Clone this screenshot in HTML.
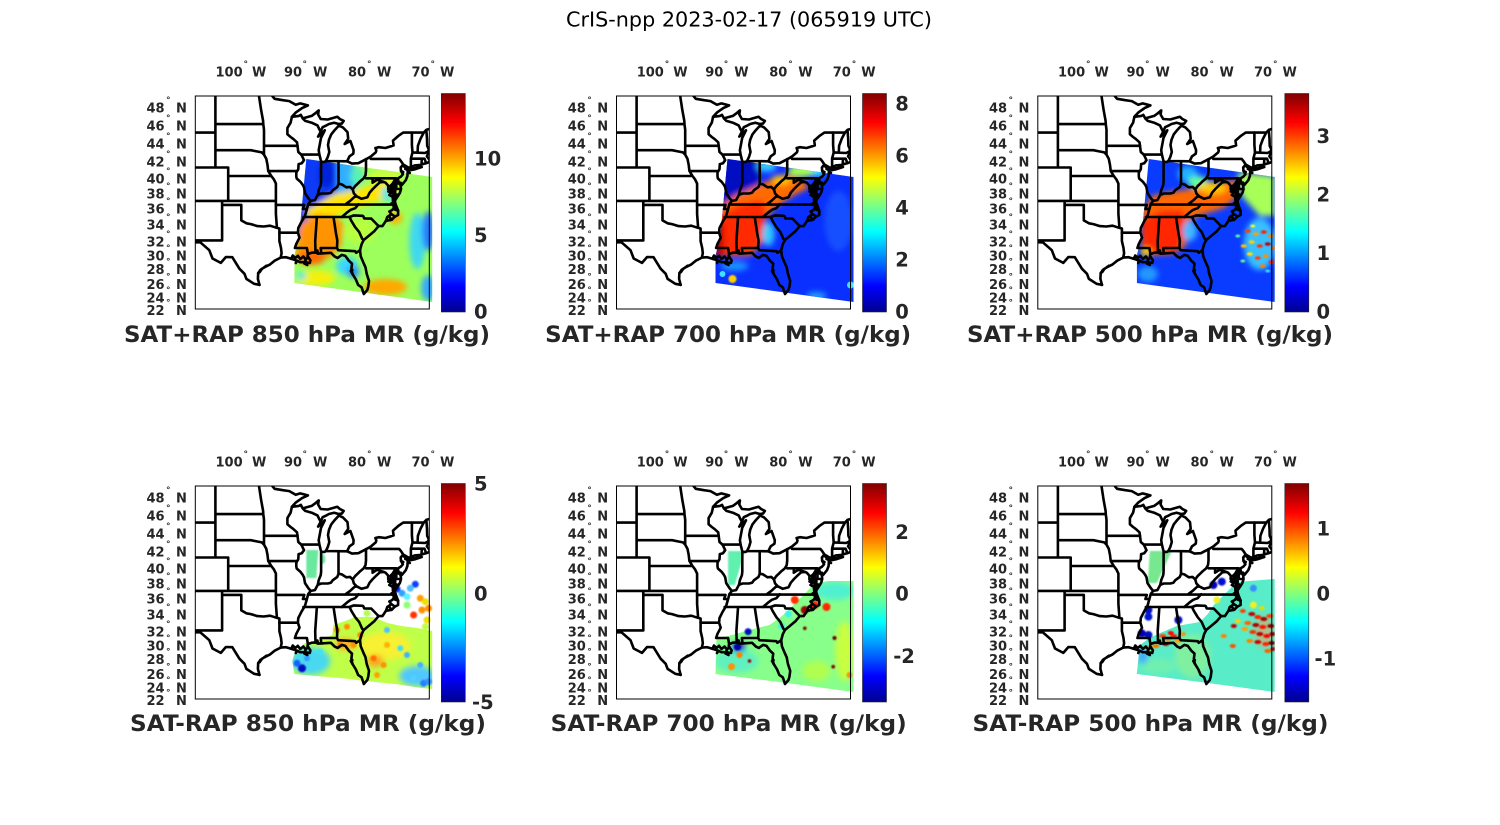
<!DOCTYPE html>
<html><head><meta charset="utf-8"><style>
html,body{margin:0;padding:0;background:#fff;}
svg{display:block;}
.t{font-family:"DejaVu Sans","Liberation Sans",sans-serif;fill:#262626;}
.l{font-size:13px;font-weight:bold;}
.d{font-size:9px;font-weight:bold;}
.c{font-size:19.5px;font-weight:bold;}
.h{font-size:22.5px;font-weight:bold;}
.m{font-size:20.5px;fill:#000;}
</style></head><body>
<svg width="1500" height="825" viewBox="0 0 1500 825" xmlns="http://www.w3.org/2000/svg">
<rect width="1500" height="825" fill="#fff"/>
<defs>
<linearGradient id="jet" x1="0" y1="1" x2="0" y2="0">
<stop offset="0" stop-color="#00008f"/><stop offset="0.117" stop-color="#0000ff"/><stop offset="0.367" stop-color="#00ffff"/><stop offset="0.617" stop-color="#ffff00"/><stop offset="0.867" stop-color="#ff0000"/><stop offset="1" stop-color="#800000"/>
</linearGradient>
<clipPath id="bx"><rect x="0" y="0" width="234" height="213"/></clipPath>
<clipPath id="sw"><polygon points="111,63 237,81 237,206 99,187 99,160 104,138"/></clipPath>
<clipPath id="c4"><polygon points="138,139 150,135 160,131 178,131 192,137 206,140 222,142 237,145 237,203 226,202 200,198 170,195 145,192 120,190 99,188 97,175 100,165 110,157 125,154 137,149"/></clipPath>
<clipPath id="c5"><polygon points="100,152 112,150 126,146 137,143 153,139 163,132 170,126 180,116 190,106 198,97 213,95 237,95 237,206 170,197 99,188"/></clipPath>
<clipPath id="c6"><polygon points="102,159 112,152 120,148 139,140 162,136 170,128 176,119 187,108 199,96 237,93 237,206 170,197 99,188"/></clipPath>
<filter id="b3" filterUnits="userSpaceOnUse" x="-30" y="-30" width="300" height="280"><feGaussianBlur stdDeviation="3"/></filter>
<filter id="b1" filterUnits="userSpaceOnUse" x="-30" y="-30" width="300" height="280"><feGaussianBlur stdDeviation="0.8"/></filter>
<g id="map" clip-path="url(#bx)" fill="none" stroke="#000" stroke-width="2.6" stroke-linejoin="round" stroke-linecap="round">
<path d="M20.1,0V71.5M0,36.6H20.1M0,71.5H32.9V104.9M32.9,80H76L78.6,83.4L80.6,87.6V117.8L81.6,131.7M20.1,28.1H68M20.1,54.2H55.6L62,55.5L66.5,56.4L68.7,58.6M63.7,0L65.8,13.9L67.8,24.9L68,28.1L68.7,33.9V58.6L71,62.9L72.2,68.9L72.9,74.9L76,80M68.7,49.8H102.2M73.1,75.1H100.9M0,104.9H80.6M26.8,104.9V144.4M26.8,108.9H46V124.4L51.1,127.3L55.6,128.1L62,130.1L68.4,130.5L74.8,129.7L81.3,131.8L84.1,132.5V145.1L85.7,152L86.3,157.3L85.4,161.4M0,144.4H26.8M0,146.3L5,146.3L14,154.2L17.2,162.5L25.5,166.9L30.6,161L37,161.2L44.1,172.7L49.2,177.8L51.1,182.9L58.8,187.8L64.2,188.9"/>
<path d="M64.2,188.9L62.6,182.9L62.9,177.1L65.2,173.8L69,171.3L74.8,168.4L79.3,164.7L85.4,161.6L90.8,161.2L95.9,162.8L101.7,164.7L104.9,166.2L108.7,166.2L114.5,166.9L115.1,164.3L112.2,160.2L112.6,158.1L116.4,156.7L120.2,156.5L122.8,157.6L126,157.4L135.6,156.8L139.4,160.6L142.3,161.9L146.5,158.9L150,159.9L153.5,164.7L156.7,167.6L156.1,172.7L157.1,177.8L160.6,183.5L162.8,188.9L166.3,191.3L168.5,198L172,194L173,190.3L173.7,184.9L171.4,177.8L170.2,171.3L168.2,166.9L165.4,160.2L164.7,154.2L166.3,148.2L168.4,144L174,139.4L179.1,135.1L183.3,130.1L187.1,130.1L190.6,124.9L196.4,123.8L199.6,120.6L202.8,119L202.8,114.6L200.4,108.5L199.6,105.7L197.7,104.9"/>
<path d="M84.1,136.7H102.6M96.6,20.8L95.3,26.7L92.1,32.1L92.1,38.3L95.3,41L97.8,42.8L101.7,46.3L102.2,49.8L103,56L106,58.6L108.7,64.2L106.5,67.2L103.3,68.1L103,73.2L101,76.6L101,80.4L101.4,82.5L105.2,85.9L107.4,88.8L108.7,91.3L109.7,97.1L113.2,102.4L115.4,104.9L112.9,108.1L111.6,113L109.7,119.8L106.2,125.7L103,132L102.6,136.7L104.2,141.7L101,147.8L99.6,152H111.6L112.6,158.1M80.6,108.9H109L107.6,113H111.6"/>
<path d="M77,0L79.3,2.8L87.6,4.2L94,5.1L100.4,8.8L104.9,7.4L112.6,9.4L106.8,12.1L100.4,16.6L96.6,20.8L103.6,19.9L105.5,18.9L107.4,22.4L110,24.9L116.4,26.7L122.2,29.4L124.1,33.4L125.4,35.7M125.4,35.7L127.3,31.2L131.1,29.4L133.7,28L138.8,26.7L143.3,28L146.5,27.6L148.4,24.9L144.6,23L142,20.8L132.4,23.5L125.4,23L122.8,18.5L123.4,14.4L119.6,17.6L116.4,19.9L107.4,22.4"/>
<path d="M125.4,35.7L122.8,40.6L126.6,37.4L129.5,34.3L125.7,41.9L124.7,47.2L123.4,54.2L124.1,58.6L125.4,63.8L126,65.9L129.2,65.9L130.5,65.1L132.4,61.2L134,56L132.7,49L133.7,43.7L136,38.3L138.8,34.8L143.6,29.5L147.8,31.6L152.2,36.1L152.9,42.8L149.4,48L155.1,45L158.3,54.2L158,57.7L154.2,60.3L151.9,65.1M106,58.6H124.1M130.4,65L151.9,65.3M125.8,65.5V85.9L125.4,89.2L123.4,94.2L122.5,98.8"/>
<path d="M115.4,104.9L119.6,104.1L122.5,98.8L126,97.5L132.4,97.5L135.6,96.7L137.5,94.2L142,90.9L143.3,87.6L146.5,88.4L151,91.3L154.8,90.9L157.4,93.4L159.9,90L162.5,87.6L165,85.1L168.2,82.5L170.2,79.2L170.7,74.6V63M143.2,87.6V65.3"/>
<path d="M151.9,65.3L156.7,67.6L163.1,67.2L170.8,63.2L175.5,60.5L180.4,56.4L181,54.6L180.1,52L183.6,51.2L190,52L195.8,50.3L198.3,49.4L197.7,44.6L202.8,40.1L207.9,36.6H228.4L231,33.9L234,33M231,33.9L231.7,42.8L231.9,49.8L233.5,53.3L232.9,55.4L232.6,58.1L231.6,60.3L233.5,62.9L234,64"/>
<path d="M170.7,82.3H201V93H205.7M175.5,62.9H203.8L205.4,64.7L207.9,68.5L213,71.5L212.4,74.1M207.9,68.5L205.4,71.5L205.7,74.9L207.6,78.3L205.4,80.8L203.1,82.1L202.5,83.4L203.4,85.9L205.4,89.6L205.7,93L204.7,96.7L202.2,100.8L199.9,104.1M212.4,74.1L212.4,75.8L212.1,80L210.5,84.2L206.6,88.9L205.4,86.7"/>
<path d="M199.4,84.2L197.1,88L196.8,93.4L198.7,96.7L197.4,100.8L197.7,104.9L199.6,105.7M199.6,85L198.3,90L199.9,95L199.6,100L199.9,104.1M177.3,82.3V86.7L181.7,83.8L188.3,85.9L190.3,86.7L192.9,89.6L192.9,93.4L198.7,96.7"/>
<path d="M150.5,108.1L154.8,104.9L159.3,100.8L161.5,100.4L158.6,97.5L157.4,93.4M161.5,100.4L166.3,102.8L172.1,101.2L174.3,96.7L177.5,93L181,89.6L184.6,86.3L188.3,85.9M113.2,108.6H200.4M108.1,121H154.2M120.2,156.5L119.9,145.1L121.5,121.8L121.8,121M138.2,121L140.7,137.5L142,144.4L141.7,152H125.4L126,157.4M141.7,152L142.9,154.2L159.9,155.2L160.9,156.8L164.7,154.2"/>
<path d="M146.5,121L151.6,116.6L155.4,113.8L159.9,112.2L163.3,108.2M154.2,121L158.6,119.4L167.3,119.8L168,120.2L168.9,122.4L176,122.6L183.3,130.1M154.2,121L156.1,124.9L159.9,131.2L163.8,135.9L166.9,142.8L168.4,144"/>
<path d="M216.6,36.6V49L217.2,56.4L215.6,62.5V70.7L214.2,71.7M228.4,36.6L225.2,42.8L222.6,49.8L222.3,56.6M217.2,56.4L229.7,57L232.9,55.4M215.6,62.7H229.2L230.6,66.4M226.5,62.7L226.2,68.7M214.2,71.7L219.4,69.4L225.2,68.9L229.1,67.6L231,67.2L234,66M213,74.6L220,73.2L226.5,71L220,72.2L213.5,73.2"/>
<path d="M199.6,120.6L196,118L194,115.5L197,114L199,111L197.5,109M190.6,124.9L192,121L195,119M95.9,162.8L97.5,159.5L100,162L102.5,159.8L105,163L108,160.5L110.5,163.5L113,161M197.4,100.8L194,99L196,97L193,95.5M198.7,96.7L195,94.5M212.4,74.1L210,73L212,71.5M62.9,177.1L64.5,176L66.5,173M69,171.3L71,169.8M122.8,157.6L122,154.5L121.5,157M157.1,177.8L155.5,175L157,174"/>
<path d="M197.1,88L195,90L196.5,91.5L194.5,93M199.6,100L201.5,98.5M202.5,83.4L201,86L203,87.5M205.7,74.9L208,76M212.4,75.8L214.5,77M196.4,123.8L194.5,121.5M199.6,105.7L196,107.5L199,110M202.8,114.6L199.5,113.5L201,111M214,73.2L216,72.4M208,70L210.5,71.8M110.5,163.5L109,167.5L112,169M101.7,164.7L100.5,167"/>
</g>
</defs>

<text class="t m" x="749" y="26.7" text-anchor="middle" textLength="366" lengthAdjust="spacingAndGlyphs">CrIS-npp 2023-02-17 (065919 UTC)</text>

<!-- PANEL 1 -->
<g transform="translate(195.3,96)">
<g clip-path="url(#sw)"><rect x="95" y="58" width="145" height="152" fill="#9cff5c"/>
<g filter="url(#b3)">
<polygon points="100,58 142,58 142,96 128,104 118,112 112,128 104,142 96,142" fill="#0c3af5"/>
<ellipse cx="131" cy="78" rx="8" ry="14" fill="#0020d8"/>
<polygon points="142,60 158,64 160,94 142,98" fill="#30b0ff"/>
<ellipse cx="162" cy="80" rx="7" ry="9" fill="#58f0b8"/>
<ellipse cx="190" cy="80" rx="18" ry="7" fill="#c8ff40"/>
<polygon points="110,114 140,98 160,94 180,88 200,84 204,96 180,106 160,112 140,120 116,130" fill="#ffe400"/>
<polygon points="104,128 120,118 140,120 148,128 146,150 135,162 110,166 100,160" fill="#ff9400"/>
<ellipse cx="116" cy="162" rx="14" ry="7" fill="#ff6a00"/>
<ellipse cx="165" cy="135" rx="16" ry="13" fill="#b8ff40"/>
<ellipse cx="152" cy="170" rx="11" ry="9" fill="#38d8ff"/>
<ellipse cx="158" cy="176" rx="6" ry="6" fill="#2a90ff"/>
<ellipse cx="120" cy="182" rx="20" ry="8" fill="#f4f010"/>
<ellipse cx="106" cy="180" rx="5" ry="4" fill="#48e8e0"/>
<ellipse cx="190" cy="191" rx="22" ry="8" fill="#ffa800"/>
<ellipse cx="200" cy="122" rx="7" ry="6" fill="#ffb000"/>
<ellipse cx="222" cy="145" rx="8" ry="28" fill="#40d8f0"/>
<ellipse cx="233" cy="135" rx="6" ry="20" fill="#2878ff"/>
<ellipse cx="233" cy="192" rx="7" ry="13" fill="#30a8ff"/>
<ellipse cx="192" cy="98" rx="6" ry="8" fill="#60e8e0"/>
</g></g>
<use href="#map"/>
<rect x="0" y="0" width="234" height="213" fill="none" stroke="#000" stroke-width="1"/>
</g>

<!-- PANEL 2 -->
<g transform="translate(616.5,96)">
<g clip-path="url(#sw)"><rect x="95" y="58" width="145" height="152" fill="#0a30ff"/>
<g filter="url(#b3)">
<polygon points="100,58 142,58 142,90 120,100 106,118 96,118" fill="#0008c0"/>
<ellipse cx="150" cy="70" rx="10" ry="6" fill="#30c8ff"/>
<ellipse cx="186" cy="75" rx="15" ry="6" fill="#a8ff50"/>
<ellipse cx="202" cy="76" rx="6" ry="5" fill="#30e0ff"/>
<polygon points="102,112 118,100 140,90 158,82 172,79 188,85 192,92 176,100 158,112 148,124 146,146 134,160 100,160" fill="#ff6a00"/>
<polygon points="102,120 124,108 146,104 150,118 142,150 130,158 102,160" fill="#ff2a00"/>
<rect x="99" y="128" width="8" height="32" fill="#c00000"/>
<ellipse cx="165" cy="84" rx="10" ry="5" fill="#ffc000"/>
<ellipse cx="152" cy="138" rx="6" ry="12" fill="#30c8ff"/>
<ellipse cx="118" cy="170" rx="14" ry="5" fill="#1c90ff"/>
<ellipse cx="222" cy="125" rx="14" ry="30" fill="#1450ff"/>
<ellipse cx="200" cy="200" rx="10" ry="4" fill="#20a0ff"/>
</g>
<circle cx="116" cy="183" r="4" fill="#ffd000" filter="url(#b1)"/>
<circle cx="106" cy="178" r="3" fill="#40e0ff"/>
<circle cx="234" cy="189" r="3.5" fill="#40e0ff"/>
</g>
<use href="#map"/>
<rect x="0" y="0" width="234" height="213" fill="none" stroke="#000" stroke-width="1"/>
</g>

<!-- PANEL 3 -->
<g transform="translate(1037.8,96)">
<g clip-path="url(#sw)"><rect x="95" y="58" width="145" height="152" fill="#0a3cff"/>
<g filter="url(#b3)">
<ellipse cx="150" cy="78" rx="10" ry="8" fill="#20b0ff"/>
<ellipse cx="160" cy="86" rx="10" ry="6" fill="#60ffa0"/>
<polygon points="104,116 114,100 132,96 160,92 185,86 200,84 200,100 186,112 160,120 150,125 148,150 135,158 104,160" fill="#ff6800"/>
<polygon points="104,124 125,114 146,114 147,140 138,156 106,158" fill="#ff2800"/>
<ellipse cx="175" cy="92" rx="14" ry="6" fill="#ffc800"/>
<ellipse cx="108" cy="156" rx="5" ry="4" fill="#ffe000"/>
<polygon points="200,76 237,80 237,120 222,120 204,100" fill="#a8ff58"/>
<ellipse cx="222" cy="148" rx="16" ry="26" fill="#38c0ff"/>
<ellipse cx="152" cy="135" rx="7" ry="10" fill="#40b8ff"/>
<ellipse cx="110" cy="178" rx="10" ry="8" fill="#2098ff"/>
</g>
<g filter="url(#b1)">
<ellipse cx="210" cy="135" rx="3" ry="1.8" fill="#ff4000"/><ellipse cx="218" cy="138" rx="3" ry="1.8" fill="#ffa000"/><ellipse cx="226" cy="136" rx="3" ry="1.8" fill="#ff2000"/><ellipse cx="233" cy="140" rx="3" ry="1.8" fill="#ff8000"/><ellipse cx="214" cy="146" rx="3" ry="1.8" fill="#ffd000"/><ellipse cx="222" cy="150" rx="3" ry="1.8" fill="#ff3000"/><ellipse cx="230" cy="148" rx="3" ry="1.8" fill="#c00000"/><ellipse cx="236" cy="152" rx="3" ry="1.8" fill="#ff6000"/><ellipse cx="212" cy="158" rx="3" ry="1.8" fill="#ffe000"/><ellipse cx="220" cy="162" rx="3" ry="1.8" fill="#ff4000"/><ellipse cx="228" cy="160" rx="3" ry="1.8" fill="#ff9000"/><ellipse cx="234" cy="166" rx="3" ry="1.8" fill="#ff2000"/><ellipse cx="206" cy="150" rx="3" ry="1.8" fill="#ffc000"/><ellipse cx="225" cy="170" rx="3" ry="1.8" fill="#ff8000"/><ellipse cx="200" cy="140" rx="2.5" ry="1.5" fill="#60ffa0"/><ellipse cx="215" cy="130" rx="2.5" ry="1.5" fill="#f0ff20"/><ellipse cx="230" cy="175" rx="2.5" ry="1.5" fill="#40e0ff"/><ellipse cx="205" cy="165" rx="2.5" ry="1.5" fill="#60ffa0"/>
</g></g>
<use href="#map"/>
<rect x="0" y="0" width="234" height="213" fill="none" stroke="#000" stroke-width="1"/>
</g>

<!-- PANEL 4 -->
<g transform="translate(195.3,486)">
<g filter="url(#b1)"><polygon points="111,64 123,64 121,92 111,92" fill="#6ae89e"/><ellipse cx="127.5" cy="73" rx="2.5" ry="5" fill="#6ae89e"/></g>
<g clip-path="url(#c4)"><rect x="95" y="125" width="145" height="85" fill="#c0ff48"/>
<g filter="url(#b3)">
<ellipse cx="115" cy="175" rx="20" ry="14" fill="#48d8f0"/>
<ellipse cx="222" cy="190" rx="18" ry="10" fill="#50c8ff"/>
<ellipse cx="190" cy="160" rx="25" ry="14" fill="#f8f030"/>
<ellipse cx="150" cy="158" rx="10" ry="6" fill="#ffb020"/>
<ellipse cx="180" cy="175" rx="8" ry="6" fill="#ffa020"/>
</g></g>
<g filter="url(#b1)">
<circle cx="201.7" cy="103" r="3.5" fill="#0020ff"/><circle cx="220" cy="98.3" r="3.5" fill="#1040ff"/><circle cx="206.7" cy="107.3" r="3.5" fill="#30a0ff"/><circle cx="215" cy="102.3" r="3.5" fill="#50c0ff"/><circle cx="211.7" cy="110.7" r="3.5" fill="#60f0ff"/><circle cx="225" cy="112.3" r="3.5" fill="#ffa000"/><circle cx="230" cy="115.7" r="3.5" fill="#f0e000"/><circle cx="233.3" cy="122.3" r="3.5" fill="#ff9000"/><circle cx="226.7" cy="124" r="3.5" fill="#ff9000"/><circle cx="218.3" cy="129" r="3.5" fill="#ff3000"/><circle cx="231.7" cy="134" r="3.5" fill="#f0e000"/><circle cx="230" cy="140.7" r="3.5" fill="#c0ff40"/><circle cx="211.7" cy="119" r="3.5" fill="#90ff70"/><circle cx="171.7" cy="127.3" r="3.5" fill="#b0ff50"/>
<circle cx="145" cy="159" r="3" fill="#ff8000"/><circle cx="158.3" cy="159" r="3" fill="#ff9000"/><circle cx="178.3" cy="172.3" r="3" fill="#ff7000"/><circle cx="188.3" cy="179" r="3" fill="#ff9000"/><circle cx="181.7" cy="189" r="3" fill="#ffa000"/><circle cx="141.7" cy="144" r="3" fill="#ff8000"/><circle cx="151.7" cy="140.7" r="3" fill="#ff9000"/><circle cx="191.7" cy="159" r="3" fill="#ffb000"/><circle cx="165" cy="149" r="3" fill="#ff8000"/>
<circle cx="191.7" cy="144" r="3" fill="#50c0ff"/><circle cx="205" cy="162.3" r="3" fill="#40e0f0"/><circle cx="211.7" cy="169" r="3" fill="#40b0ff"/><circle cx="225" cy="179" r="3" fill="#40b0ff"/><circle cx="228.3" cy="197.3" r="3.5" fill="#2080ff"/><circle cx="233.3" cy="195.7" r="3.5" fill="#3090ff"/><circle cx="218.3" cy="192.3" r="3" fill="#50d0ff"/>
<circle cx="106.7" cy="182.3" r="4" fill="#0010c0"/><circle cx="101.7" cy="177.3" r="3.5" fill="#1860ff"/><circle cx="111.7" cy="172.3" r="3" fill="#30a0ff"/><circle cx="125" cy="165.7" r="3" fill="#40e0ff"/>
</g>
<use href="#map"/>
<rect x="0" y="0" width="234" height="213" fill="none" stroke="#000" stroke-width="1"/>
</g>

<!-- PANEL 5 -->
<g transform="translate(616.5,486)">
<g filter="url(#b1)"><polygon points="111.6,65 128.3,65 118.3,99 111.6,99" fill="#60f0b0"/></g>
<g clip-path="url(#c5)"><rect x="95" y="90" width="145" height="120" fill="#88ff8a"/>
<g filter="url(#b3)">
<ellipse cx="218" cy="105" rx="20" ry="9" fill="#50f0d0"/>
<ellipse cx="120" cy="175" rx="22" ry="12" fill="#60f0c0"/>
<ellipse cx="228" cy="165" rx="9" ry="30" fill="#c8ff40"/>
<ellipse cx="200" cy="185" rx="14" ry="10" fill="#b0ff50"/>
<ellipse cx="122" cy="161" rx="7" ry="5" fill="#0818e0"/>
</g></g>
<g filter="url(#b1)">
<circle cx="121" cy="161" r="3.5" fill="#0000a0"/><circle cx="131.6" cy="145.7" r="3.5" fill="#0010c0"/><circle cx="115" cy="180.7" r="3.5" fill="#ff9000"/><circle cx="123" cy="169" r="3" fill="#ff8000"/><circle cx="233" cy="189" r="3" fill="#ff9000"/><circle cx="178.3" cy="114" r="4" fill="#ff3000"/><circle cx="198.3" cy="119" r="4" fill="#ff2000"/><circle cx="210" cy="121" r="4" fill="#ff2800"/><circle cx="188.3" cy="124" r="4" fill="#a00000"/><circle cx="165" cy="140" r="3.5" fill="#40f0f0"/><circle cx="172" cy="128" r="3.5" fill="#40f0f0"/><circle cx="188.3" cy="142.3" r="1.8" fill="#800000"/><circle cx="218" cy="152" r="2" fill="#600000"/><circle cx="216.7" cy="180.7" r="1.8" fill="#800000"/><circle cx="133" cy="175" r="1.8" fill="#a00000"/>
</g>
<use href="#map"/>
<rect x="0" y="0" width="234" height="213" fill="none" stroke="#000" stroke-width="1"/>
</g>

<!-- PANEL 6 -->
<g transform="translate(1037.8,486)">
<g filter="url(#b1)"><polygon points="112,65 134,65 119,97 110,97" fill="#78e890"/></g>
<g clip-path="url(#c6)"><rect x="95" y="90" width="145" height="120" fill="#58ecc8"/>
<g filter="url(#b3)">
<ellipse cx="155" cy="170" rx="18" ry="22" fill="#80f0a0"/>
<ellipse cx="120" cy="180" rx="18" ry="8" fill="#70f0b0"/>
<ellipse cx="105" cy="170" rx="5" ry="8" fill="#40a8ff"/>
<ellipse cx="226" cy="146" rx="9" ry="16" fill="#e8a060" opacity="0.6"/>
</g>
<g filter="url(#b1)">
<ellipse cx="214" cy="128" rx="3.5" ry="2" fill="#c00000"/><ellipse cx="220" cy="131" rx="3.5" ry="2" fill="#ff2000"/><ellipse cx="226" cy="133" rx="3.5" ry="2" fill="#a00000"/><ellipse cx="232" cy="130" rx="3.5" ry="2" fill="#ff4000"/><ellipse cx="210" cy="137" rx="3.5" ry="2" fill="#ff6000"/><ellipse cx="218" cy="139" rx="3.5" ry="2" fill="#b00000"/><ellipse cx="225" cy="141" rx="3.5" ry="2" fill="#ff1000"/><ellipse cx="233" cy="140" rx="3.5" ry="2" fill="#900000"/><ellipse cx="215" cy="146" rx="3.5" ry="2" fill="#ff3000"/><ellipse cx="222" cy="148" rx="3.5" ry="2" fill="#c00000"/><ellipse cx="229" cy="150" rx="3.5" ry="2" fill="#ff0000"/><ellipse cx="235" cy="148" rx="3.5" ry="2" fill="#a00000"/><ellipse cx="212" cy="155" rx="3.5" ry="2" fill="#ff8000"/><ellipse cx="220" cy="156" rx="3.5" ry="2" fill="#d00000"/><ellipse cx="228" cy="158" rx="3.5" ry="2" fill="#ff2000"/><ellipse cx="234" cy="157" rx="3.5" ry="2" fill="#800000"/><ellipse cx="207" cy="143" rx="3.5" ry="2" fill="#ffa000"/><ellipse cx="230" cy="165" rx="3.5" ry="2" fill="#ff6000"/><ellipse cx="236" cy="163" rx="3.5" ry="2" fill="#c00000"/><ellipse cx="200" cy="135" rx="3" ry="2" fill="#ffd000"/><ellipse cx="205" cy="125" rx="3" ry="2" fill="#ff4000"/><ellipse cx="224" cy="122" rx="3" ry="2" fill="#e0e000"/><ellipse cx="196" cy="140" rx="3" ry="2" fill="#c00000"/><ellipse cx="186" cy="150" rx="3" ry="2" fill="#ff8000"/><ellipse cx="195" cy="160" rx="3" ry="2" fill="#ff5000"/>
<ellipse cx="125" cy="150" rx="3.5" ry="2" fill="#ff4000"/><ellipse cx="130" cy="153" rx="3.5" ry="2" fill="#ff8000"/><ellipse cx="136" cy="150" rx="3.5" ry="2" fill="#ff2000"/><ellipse cx="140" cy="155" rx="3.5" ry="2" fill="#ffa000"/><ellipse cx="128" cy="158" rx="3.5" ry="2" fill="#c00000"/><ellipse cx="118" cy="160" rx="3.5" ry="2" fill="#ff7000"/><ellipse cx="112" cy="162" rx="3.5" ry="2" fill="#ffb000"/><ellipse cx="133" cy="147" rx="3" ry="2" fill="#ff0000"/><ellipse cx="145" cy="148" rx="3" ry="2" fill="#ff9000"/>
</g></g>
<g filter="url(#b1)">
<circle cx="175.6" cy="99" r="4" fill="#0000c0"/><circle cx="184" cy="95.7" r="4" fill="#0010d0"/><circle cx="110.6" cy="124" r="4" fill="#0010c0"/><circle cx="110.6" cy="130.7" r="4" fill="#0018d0"/><circle cx="104" cy="147.3" r="4" fill="#0000b0"/><circle cx="110.6" cy="149" r="4" fill="#0010c0"/><circle cx="140.6" cy="134" r="4" fill="#0010c0"/><circle cx="215.6" cy="102.3" r="3.5" fill="#3090ff"/><circle cx="179" cy="114" r="3.5" fill="#f0f020"/><circle cx="215.6" cy="119" r="3.5" fill="#f0f020"/>
</g>
<use href="#map"/>
<rect x="0" y="0" width="234" height="213" fill="none" stroke="#000" stroke-width="1"/>
</g>

<!-- COLORBARS -->
<g stroke="#262626" stroke-width="0.6">
<rect x="441.3" y="93.5" width="24" height="218.5" fill="url(#jet)"/>
<rect x="862.5" y="93.5" width="24" height="218.5" fill="url(#jet)"/>
<rect x="1284.8" y="93.5" width="24" height="218.5" fill="url(#jet)"/>
<rect x="441.3" y="483.5" width="24" height="218.5" fill="url(#jet)"/>
<rect x="862.5" y="483.5" width="24" height="218.5" fill="url(#jet)"/>
<rect x="1284.8" y="483.5" width="24" height="218.5" fill="url(#jet)"/>
</g>
<g class="t c">
<text x="474" y="165.4">10</text><text x="474" y="242">5</text><text x="474" y="318.6">0</text>
<text x="895.2" y="110.4">8</text><text x="895.2" y="162.4">6</text><text x="895.2" y="214.5">4</text><text x="895.2" y="266.5">2</text><text x="895.2" y="318.6">0</text>
<text x="1316.5" y="142.8">3</text><text x="1316.5" y="201.4">2</text><text x="1316.5" y="260">1</text><text x="1316.5" y="318.6">0</text>
<text x="474" y="490.4">5</text><text x="474" y="600.4">0</text><text x="472" y="709.1">-5</text>
<text x="895.2" y="538.8">2</text><text x="895.2" y="600.4">0</text><text x="893.2" y="663.1">-2</text>
<text x="1316.5" y="535.4">1</text><text x="1316.5" y="600.4">0</text><text x="1314.5" y="665.4">-1</text>
</g>

<!-- PANEL TITLES -->
<g class="t h" text-anchor="middle">
<text x="307" y="342" textLength="366" lengthAdjust="spacingAndGlyphs">SAT+RAP 850 hPa MR (g/kg)</text>
<text x="728.2" y="342" textLength="366" lengthAdjust="spacingAndGlyphs">SAT+RAP 700 hPa MR (g/kg)</text>
<text x="1150" y="342" textLength="366" lengthAdjust="spacingAndGlyphs">SAT+RAP 500 hPa MR (g/kg)</text>
<text x="308" y="731" textLength="356" lengthAdjust="spacingAndGlyphs">SAT-RAP 850 hPa MR (g/kg)</text>
<text x="728.7" y="731" textLength="356" lengthAdjust="spacingAndGlyphs">SAT-RAP 700 hPa MR (g/kg)</text>
<text x="1150.5" y="731" textLength="356" lengthAdjust="spacingAndGlyphs">SAT-RAP 500 hPa MR (g/kg)</text>
</g>

<!-- AXIS LABELS: panel 1 -->
<g class="t l">
<text x="215.5" y="76.7">100<tspan class="d" x="243.5" dy="-9.7">°</tspan><tspan x="252" dy="9.7">W</tspan></text>
<text x="284" y="76.7">90<tspan class="d" x="302.5" dy="-9.7">°</tspan><tspan x="313" dy="9.7">W</tspan></text>
<text x="348" y="76.7">80<tspan class="d" x="367" dy="-9.7">°</tspan><tspan x="377" dy="9.7">W</tspan></text>
<text x="411.5" y="76.7">70<tspan class="d" x="430.5" dy="-9.7">°</tspan><tspan x="440" dy="9.7">W</tspan></text>
<text x="146.5" y="112.7">48<tspan class="d" x="166" dy="-9.5">°</tspan><tspan x="176" dy="9.5">N</tspan></text>
<text x="146.5" y="130.7">46<tspan class="d" x="166" dy="-9.5">°</tspan><tspan x="176" dy="9.5">N</tspan></text>
<text x="146.5" y="148.3">44<tspan class="d" x="166" dy="-9.5">°</tspan><tspan x="176" dy="9.5">N</tspan></text>
<text x="146.5" y="166.7">42<tspan class="d" x="166" dy="-9.5">°</tspan><tspan x="176" dy="9.5">N</tspan></text>
<text x="146.5" y="183.3">40<tspan class="d" x="166" dy="-9.5">°</tspan><tspan x="176" dy="9.5">N</tspan></text>
<text x="146.5" y="198.3">38<tspan class="d" x="166" dy="-9.5">°</tspan><tspan x="176" dy="9.5">N</tspan></text>
<text x="146.5" y="213.3">36<tspan class="d" x="166" dy="-9.5">°</tspan><tspan x="176" dy="9.5">N</tspan></text>
<text x="146.5" y="229.3">34<tspan class="d" x="166" dy="-9.5">°</tspan><tspan x="176" dy="9.5">N</tspan></text>
<text x="146.5" y="246.7">32<tspan class="d" x="166" dy="-9.5">°</tspan><tspan x="176" dy="9.5">N</tspan></text>
<text x="146.5" y="260.7">30<tspan class="d" x="166" dy="-9.5">°</tspan><tspan x="176" dy="9.5">N</tspan></text>
<text x="146.5" y="274">28<tspan class="d" x="166" dy="-9.5">°</tspan><tspan x="176" dy="9.5">N</tspan></text>
<text x="146.5" y="289">26<tspan class="d" x="166" dy="-9.5">°</tspan><tspan x="176" dy="9.5">N</tspan></text>
<text x="146.5" y="302.3">24<tspan class="d" x="166" dy="-9.5">°</tspan><tspan x="176" dy="9.5">N</tspan></text>
<text x="146.5" y="315">22<tspan class="d" x="166" dy="-9.5">°</tspan><tspan x="176" dy="9.5">N</tspan></text>
</g>
<!-- panel 2 -->
<g class="t l" transform="translate(421.2,0)">
<text x="215.5" y="76.7">100<tspan class="d" x="243.5" dy="-9.7">°</tspan><tspan x="252" dy="9.7">W</tspan></text>
<text x="284" y="76.7">90<tspan class="d" x="302.5" dy="-9.7">°</tspan><tspan x="313" dy="9.7">W</tspan></text>
<text x="348" y="76.7">80<tspan class="d" x="367" dy="-9.7">°</tspan><tspan x="377" dy="9.7">W</tspan></text>
<text x="411.5" y="76.7">70<tspan class="d" x="430.5" dy="-9.7">°</tspan><tspan x="440" dy="9.7">W</tspan></text>
<text x="146.5" y="112.7">48<tspan class="d" x="166" dy="-9.5">°</tspan><tspan x="176" dy="9.5">N</tspan></text>
<text x="146.5" y="130.7">46<tspan class="d" x="166" dy="-9.5">°</tspan><tspan x="176" dy="9.5">N</tspan></text>
<text x="146.5" y="148.3">44<tspan class="d" x="166" dy="-9.5">°</tspan><tspan x="176" dy="9.5">N</tspan></text>
<text x="146.5" y="166.7">42<tspan class="d" x="166" dy="-9.5">°</tspan><tspan x="176" dy="9.5">N</tspan></text>
<text x="146.5" y="183.3">40<tspan class="d" x="166" dy="-9.5">°</tspan><tspan x="176" dy="9.5">N</tspan></text>
<text x="146.5" y="198.3">38<tspan class="d" x="166" dy="-9.5">°</tspan><tspan x="176" dy="9.5">N</tspan></text>
<text x="146.5" y="213.3">36<tspan class="d" x="166" dy="-9.5">°</tspan><tspan x="176" dy="9.5">N</tspan></text>
<text x="146.5" y="229.3">34<tspan class="d" x="166" dy="-9.5">°</tspan><tspan x="176" dy="9.5">N</tspan></text>
<text x="146.5" y="246.7">32<tspan class="d" x="166" dy="-9.5">°</tspan><tspan x="176" dy="9.5">N</tspan></text>
<text x="146.5" y="260.7">30<tspan class="d" x="166" dy="-9.5">°</tspan><tspan x="176" dy="9.5">N</tspan></text>
<text x="146.5" y="274">28<tspan class="d" x="166" dy="-9.5">°</tspan><tspan x="176" dy="9.5">N</tspan></text>
<text x="146.5" y="289">26<tspan class="d" x="166" dy="-9.5">°</tspan><tspan x="176" dy="9.5">N</tspan></text>
<text x="146.5" y="302.3">24<tspan class="d" x="166" dy="-9.5">°</tspan><tspan x="176" dy="9.5">N</tspan></text>
<text x="146.5" y="315">22<tspan class="d" x="166" dy="-9.5">°</tspan><tspan x="176" dy="9.5">N</tspan></text>
</g>
<!-- panel 3 -->
<g class="t l" transform="translate(842.5,0)">
<text x="215.5" y="76.7">100<tspan class="d" x="243.5" dy="-9.7">°</tspan><tspan x="252" dy="9.7">W</tspan></text>
<text x="284" y="76.7">90<tspan class="d" x="302.5" dy="-9.7">°</tspan><tspan x="313" dy="9.7">W</tspan></text>
<text x="348" y="76.7">80<tspan class="d" x="367" dy="-9.7">°</tspan><tspan x="377" dy="9.7">W</tspan></text>
<text x="411.5" y="76.7">70<tspan class="d" x="430.5" dy="-9.7">°</tspan><tspan x="440" dy="9.7">W</tspan></text>
<text x="146.5" y="112.7">48<tspan class="d" x="166" dy="-9.5">°</tspan><tspan x="176" dy="9.5">N</tspan></text>
<text x="146.5" y="130.7">46<tspan class="d" x="166" dy="-9.5">°</tspan><tspan x="176" dy="9.5">N</tspan></text>
<text x="146.5" y="148.3">44<tspan class="d" x="166" dy="-9.5">°</tspan><tspan x="176" dy="9.5">N</tspan></text>
<text x="146.5" y="166.7">42<tspan class="d" x="166" dy="-9.5">°</tspan><tspan x="176" dy="9.5">N</tspan></text>
<text x="146.5" y="183.3">40<tspan class="d" x="166" dy="-9.5">°</tspan><tspan x="176" dy="9.5">N</tspan></text>
<text x="146.5" y="198.3">38<tspan class="d" x="166" dy="-9.5">°</tspan><tspan x="176" dy="9.5">N</tspan></text>
<text x="146.5" y="213.3">36<tspan class="d" x="166" dy="-9.5">°</tspan><tspan x="176" dy="9.5">N</tspan></text>
<text x="146.5" y="229.3">34<tspan class="d" x="166" dy="-9.5">°</tspan><tspan x="176" dy="9.5">N</tspan></text>
<text x="146.5" y="246.7">32<tspan class="d" x="166" dy="-9.5">°</tspan><tspan x="176" dy="9.5">N</tspan></text>
<text x="146.5" y="260.7">30<tspan class="d" x="166" dy="-9.5">°</tspan><tspan x="176" dy="9.5">N</tspan></text>
<text x="146.5" y="274">28<tspan class="d" x="166" dy="-9.5">°</tspan><tspan x="176" dy="9.5">N</tspan></text>
<text x="146.5" y="289">26<tspan class="d" x="166" dy="-9.5">°</tspan><tspan x="176" dy="9.5">N</tspan></text>
<text x="146.5" y="302.3">24<tspan class="d" x="166" dy="-9.5">°</tspan><tspan x="176" dy="9.5">N</tspan></text>
<text x="146.5" y="315">22<tspan class="d" x="166" dy="-9.5">°</tspan><tspan x="176" dy="9.5">N</tspan></text>
</g>
<!-- panel 4 -->
<g class="t l" transform="translate(0,390)">
<text x="215.5" y="76.7">100<tspan class="d" x="243.5" dy="-9.7">°</tspan><tspan x="252" dy="9.7">W</tspan></text>
<text x="284" y="76.7">90<tspan class="d" x="302.5" dy="-9.7">°</tspan><tspan x="313" dy="9.7">W</tspan></text>
<text x="348" y="76.7">80<tspan class="d" x="367" dy="-9.7">°</tspan><tspan x="377" dy="9.7">W</tspan></text>
<text x="411.5" y="76.7">70<tspan class="d" x="430.5" dy="-9.7">°</tspan><tspan x="440" dy="9.7">W</tspan></text>
<text x="146.5" y="112.7">48<tspan class="d" x="166" dy="-9.5">°</tspan><tspan x="176" dy="9.5">N</tspan></text>
<text x="146.5" y="130.7">46<tspan class="d" x="166" dy="-9.5">°</tspan><tspan x="176" dy="9.5">N</tspan></text>
<text x="146.5" y="148.3">44<tspan class="d" x="166" dy="-9.5">°</tspan><tspan x="176" dy="9.5">N</tspan></text>
<text x="146.5" y="166.7">42<tspan class="d" x="166" dy="-9.5">°</tspan><tspan x="176" dy="9.5">N</tspan></text>
<text x="146.5" y="183.3">40<tspan class="d" x="166" dy="-9.5">°</tspan><tspan x="176" dy="9.5">N</tspan></text>
<text x="146.5" y="198.3">38<tspan class="d" x="166" dy="-9.5">°</tspan><tspan x="176" dy="9.5">N</tspan></text>
<text x="146.5" y="213.3">36<tspan class="d" x="166" dy="-9.5">°</tspan><tspan x="176" dy="9.5">N</tspan></text>
<text x="146.5" y="229.3">34<tspan class="d" x="166" dy="-9.5">°</tspan><tspan x="176" dy="9.5">N</tspan></text>
<text x="146.5" y="246.7">32<tspan class="d" x="166" dy="-9.5">°</tspan><tspan x="176" dy="9.5">N</tspan></text>
<text x="146.5" y="260.7">30<tspan class="d" x="166" dy="-9.5">°</tspan><tspan x="176" dy="9.5">N</tspan></text>
<text x="146.5" y="274">28<tspan class="d" x="166" dy="-9.5">°</tspan><tspan x="176" dy="9.5">N</tspan></text>
<text x="146.5" y="289">26<tspan class="d" x="166" dy="-9.5">°</tspan><tspan x="176" dy="9.5">N</tspan></text>
<text x="146.5" y="302.3">24<tspan class="d" x="166" dy="-9.5">°</tspan><tspan x="176" dy="9.5">N</tspan></text>
<text x="146.5" y="315">22<tspan class="d" x="166" dy="-9.5">°</tspan><tspan x="176" dy="9.5">N</tspan></text>
</g>
<!-- panel 5 -->
<g class="t l" transform="translate(421.2,390)">
<text x="215.5" y="76.7">100<tspan class="d" x="243.5" dy="-9.7">°</tspan><tspan x="252" dy="9.7">W</tspan></text>
<text x="284" y="76.7">90<tspan class="d" x="302.5" dy="-9.7">°</tspan><tspan x="313" dy="9.7">W</tspan></text>
<text x="348" y="76.7">80<tspan class="d" x="367" dy="-9.7">°</tspan><tspan x="377" dy="9.7">W</tspan></text>
<text x="411.5" y="76.7">70<tspan class="d" x="430.5" dy="-9.7">°</tspan><tspan x="440" dy="9.7">W</tspan></text>
<text x="146.5" y="112.7">48<tspan class="d" x="166" dy="-9.5">°</tspan><tspan x="176" dy="9.5">N</tspan></text>
<text x="146.5" y="130.7">46<tspan class="d" x="166" dy="-9.5">°</tspan><tspan x="176" dy="9.5">N</tspan></text>
<text x="146.5" y="148.3">44<tspan class="d" x="166" dy="-9.5">°</tspan><tspan x="176" dy="9.5">N</tspan></text>
<text x="146.5" y="166.7">42<tspan class="d" x="166" dy="-9.5">°</tspan><tspan x="176" dy="9.5">N</tspan></text>
<text x="146.5" y="183.3">40<tspan class="d" x="166" dy="-9.5">°</tspan><tspan x="176" dy="9.5">N</tspan></text>
<text x="146.5" y="198.3">38<tspan class="d" x="166" dy="-9.5">°</tspan><tspan x="176" dy="9.5">N</tspan></text>
<text x="146.5" y="213.3">36<tspan class="d" x="166" dy="-9.5">°</tspan><tspan x="176" dy="9.5">N</tspan></text>
<text x="146.5" y="229.3">34<tspan class="d" x="166" dy="-9.5">°</tspan><tspan x="176" dy="9.5">N</tspan></text>
<text x="146.5" y="246.7">32<tspan class="d" x="166" dy="-9.5">°</tspan><tspan x="176" dy="9.5">N</tspan></text>
<text x="146.5" y="260.7">30<tspan class="d" x="166" dy="-9.5">°</tspan><tspan x="176" dy="9.5">N</tspan></text>
<text x="146.5" y="274">28<tspan class="d" x="166" dy="-9.5">°</tspan><tspan x="176" dy="9.5">N</tspan></text>
<text x="146.5" y="289">26<tspan class="d" x="166" dy="-9.5">°</tspan><tspan x="176" dy="9.5">N</tspan></text>
<text x="146.5" y="302.3">24<tspan class="d" x="166" dy="-9.5">°</tspan><tspan x="176" dy="9.5">N</tspan></text>
<text x="146.5" y="315">22<tspan class="d" x="166" dy="-9.5">°</tspan><tspan x="176" dy="9.5">N</tspan></text>
</g>
<!-- panel 6 -->
<g class="t l" transform="translate(842.5,390)">
<text x="215.5" y="76.7">100<tspan class="d" x="243.5" dy="-9.7">°</tspan><tspan x="252" dy="9.7">W</tspan></text>
<text x="284" y="76.7">90<tspan class="d" x="302.5" dy="-9.7">°</tspan><tspan x="313" dy="9.7">W</tspan></text>
<text x="348" y="76.7">80<tspan class="d" x="367" dy="-9.7">°</tspan><tspan x="377" dy="9.7">W</tspan></text>
<text x="411.5" y="76.7">70<tspan class="d" x="430.5" dy="-9.7">°</tspan><tspan x="440" dy="9.7">W</tspan></text>
<text x="146.5" y="112.7">48<tspan class="d" x="166" dy="-9.5">°</tspan><tspan x="176" dy="9.5">N</tspan></text>
<text x="146.5" y="130.7">46<tspan class="d" x="166" dy="-9.5">°</tspan><tspan x="176" dy="9.5">N</tspan></text>
<text x="146.5" y="148.3">44<tspan class="d" x="166" dy="-9.5">°</tspan><tspan x="176" dy="9.5">N</tspan></text>
<text x="146.5" y="166.7">42<tspan class="d" x="166" dy="-9.5">°</tspan><tspan x="176" dy="9.5">N</tspan></text>
<text x="146.5" y="183.3">40<tspan class="d" x="166" dy="-9.5">°</tspan><tspan x="176" dy="9.5">N</tspan></text>
<text x="146.5" y="198.3">38<tspan class="d" x="166" dy="-9.5">°</tspan><tspan x="176" dy="9.5">N</tspan></text>
<text x="146.5" y="213.3">36<tspan class="d" x="166" dy="-9.5">°</tspan><tspan x="176" dy="9.5">N</tspan></text>
<text x="146.5" y="229.3">34<tspan class="d" x="166" dy="-9.5">°</tspan><tspan x="176" dy="9.5">N</tspan></text>
<text x="146.5" y="246.7">32<tspan class="d" x="166" dy="-9.5">°</tspan><tspan x="176" dy="9.5">N</tspan></text>
<text x="146.5" y="260.7">30<tspan class="d" x="166" dy="-9.5">°</tspan><tspan x="176" dy="9.5">N</tspan></text>
<text x="146.5" y="274">28<tspan class="d" x="166" dy="-9.5">°</tspan><tspan x="176" dy="9.5">N</tspan></text>
<text x="146.5" y="289">26<tspan class="d" x="166" dy="-9.5">°</tspan><tspan x="176" dy="9.5">N</tspan></text>
<text x="146.5" y="302.3">24<tspan class="d" x="166" dy="-9.5">°</tspan><tspan x="176" dy="9.5">N</tspan></text>
<text x="146.5" y="315">22<tspan class="d" x="166" dy="-9.5">°</tspan><tspan x="176" dy="9.5">N</tspan></text>
</g>
</svg>
</body></html>
